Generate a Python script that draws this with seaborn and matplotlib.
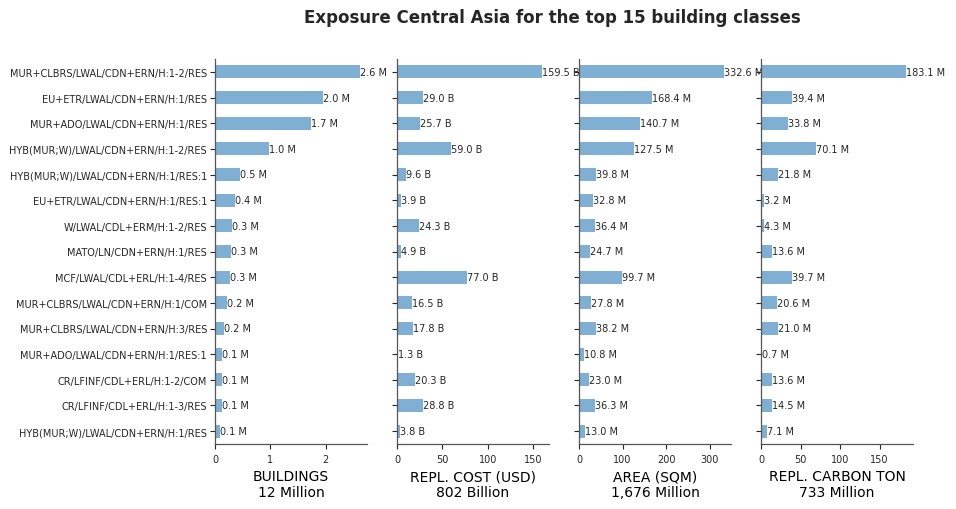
import matplotlib
matplotlib.use("Agg")
import matplotlib.pyplot as plt
import seaborn as sns
import pandas as pd

categories = [
    "MUR+CLBRS/LWAL/CDN+ERN/H:1-2/RES",
    "EU+ETR/LWAL/CDN+ERN/H:1/RES",
    "MUR+ADO/LWAL/CDN+ERN/H:1/RES",
    "HYB(MUR;W)/LWAL/CDN+ERN/H:1-2/RES",
    "HYB(MUR;W)/LWAL/CDN+ERN/H:1/RES:1",
    "EU+ETR/LWAL/CDN+ERN/H:1/RES:1",
    "W/LWAL/CDL+ERM/H:1-2/RES",
    "MATO/LN/CDN+ERN/H:1/RES",
    "MCF/LWAL/CDL+ERL/H:1-4/RES",
    "MUR+CLBRS/LWAL/CDN+ERN/H:1/COM",
    "MUR+CLBRS/LWAL/CDN+ERN/H:3/RES",
    "MUR+ADO/LWAL/CDN+ERN/H:1/RES:1",
    "CR/LFINF/CDL+ERL/H:1-2/COM",
    "CR/LFINF/CDL+ERL/H:1-3/RES",
    "HYB(MUR;W)/LWAL/CDN+ERN/H:1/RES",
]

buildings_m = [2.62, 1.96, 1.73, 0.98, 0.46, 0.37, 0.31, 0.29, 0.27, 0.21, 0.16, 0.13, 0.12, 0.12, 0.09]
repl_cost_b = [159.5, 29.0, 25.7, 59.0, 9.6, 3.9, 24.3, 4.9, 77.0, 16.5, 17.8, 1.3, 20.3, 28.8, 3.8]
area_m = [332.6, 168.4, 140.7, 127.5, 39.8, 32.8, 36.4, 24.7, 99.7, 27.8, 38.2, 10.8, 23.0, 36.3, 13.0]
carbon_m = [183.1, 39.4, 33.8, 70.1, 21.8, 3.2, 4.3, 13.6, 39.7, 20.6, 21.0, 0.7, 13.6, 14.5, 7.1]

panel_titles = ["BUILDINGS\n12 Million", "REPL. COST (USD)\n802 Billion",
                "AREA (SQM)\n1,676 Million", "REPL. CARBON TON\n733 Million"]
units = ["M", "B", "M", "M"]
title = "Exposure Central Asia for the top 15 building classes"

sns.set_theme(style="ticks")
plt.rcParams['font.family'] = ['DejaVu Sans']

fig = plt.figure(figsize=(9.56, 5.10), dpi=100)
W, H = 956, 510
lefts = [215, 397, 579, 761]
width = 152
top, bottom = 60, 445
bar_color = "#7fafd3"

series = [buildings_m, repl_cost_b, area_m, carbon_m]
axes = []
for i, (vals, lab, unit) in enumerate(zip(series, panel_titles, units)):
    ax = fig.add_axes([lefts[i] / W, 1 - bottom / H, width / W, (bottom - top) / H])
    df = pd.DataFrame({"cat": categories, "val": vals})
    sns.barplot(data=df, x="val", y="cat", orient="h", width=0.5,
                color=bar_color, saturation=1, linewidth=0, edgecolor="none", ax=ax)
    ax.set_xlim(0, max(vals) * 1.05)
    for p, v in zip(ax.patches, vals):
        ax.text(p.get_width(), p.get_y() + p.get_height() / 2, f"{v:.1f} {unit}",
                va="center", ha="left", fontsize=7, color="#262626", clip_on=False,
                zorder=10)
    ax.set_ylabel("")
    ax.set_xlabel(lab, fontsize=10, color="black", labelpad=4)
    ax.tick_params(axis="both", labelsize=7, length=3.5, width=0.8, colors="#262626")
    ax.tick_params(axis="y", pad=2.2)
    if i > 0:
        ax.set_yticklabels([])
    for s in ["left", "bottom"]:
        ax.spines[s].set_color("#555555")
        ax.spines[s].set_linewidth(0.9)
    sns.despine(ax=ax)
    axes.append(ax)

fig.text(552 / W, 1 - 18 / H, title, ha="center", va="center",
         fontsize=12, fontweight="bold", color="#262626")

fig.savefig("out.png", dpi=100)
